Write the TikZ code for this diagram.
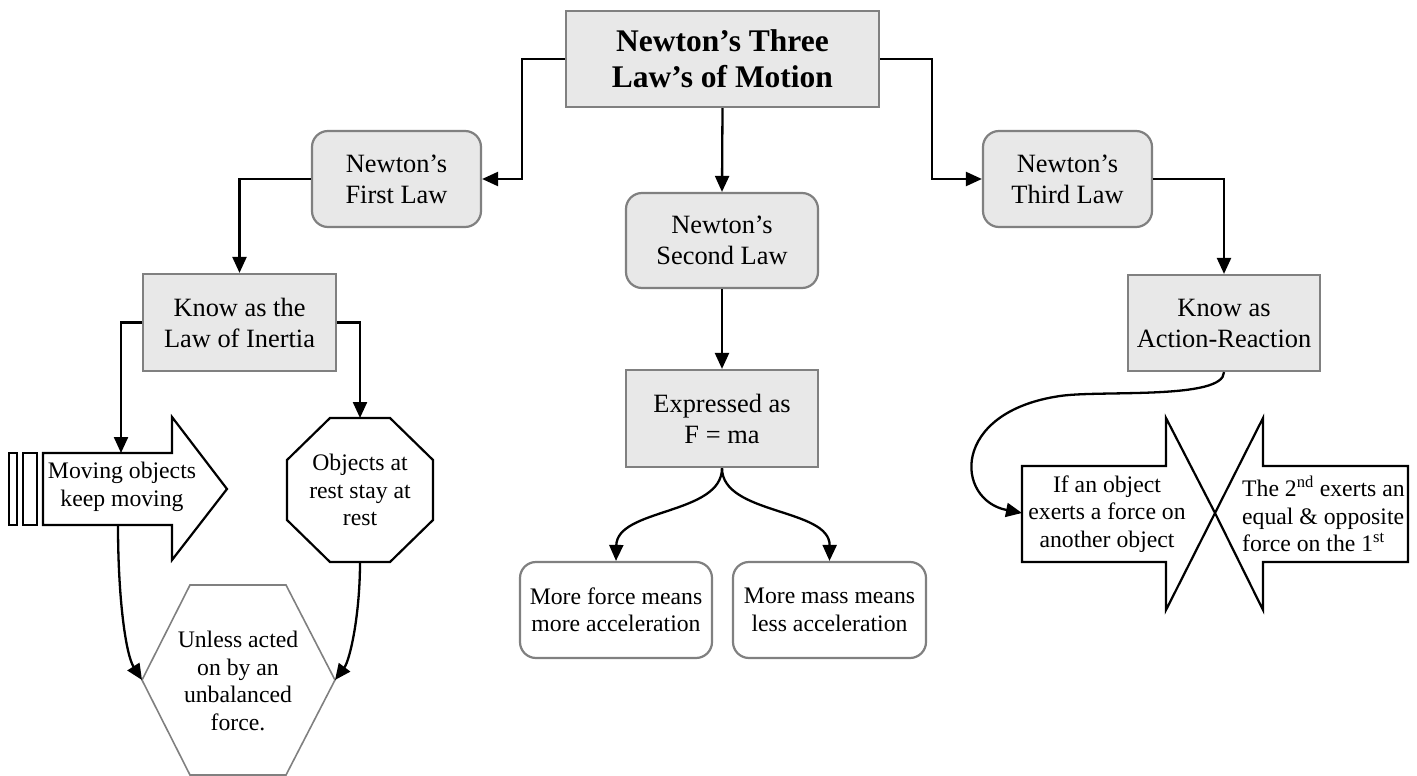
\documentclass[tikz,border=0pt]{standalone}
\usepackage{fontspec}
\setmainfont{Liberation Serif}
\usetikzlibrary{arrows.meta}
\definecolor{boxfill}{HTML}{E8E8E8}
\definecolor{boxline}{HTML}{808080}
\newcommand\bxfont{\fontsize{26.4}{31}\selectfont}
\newcommand\shfont{\fontsize{23.7}{27.5}\selectfont}
\newcommand\ttlfont{\fontsize{31.5}{36}\selectfont\bfseries}
\begin{document}
\begin{tikzpicture}[x=1pt,y=-1pt,
  conn/.style={line width=2.3pt,-{Triangle[length=16pt,width=14pt]}},
  shapeline/.style={line width=2.2pt,draw=black},
  graybox/.style={draw=boxline,fill=boxfill,line width=2.2pt,align=center,font=\bxfont,inner sep=0pt},
  roundbox/.style={graybox,rounded corners=16pt},
  whitebox/.style={draw=boxline,fill=white,line width=2.2pt,rounded corners=16pt,align=center,font=\shfont,inner sep=0pt},
  shtext/.style={align=center,font=\shfont,inner sep=0pt}]
\useasboundingbox (0,0) rectangle (1417,776);

% boxes
\node[graybox,font=\ttlfont,minimum width=313pt,minimum height=96pt] (title) at (722.5,59) {Newton’s Three\\Law’s of Motion};
\node[roundbox,minimum width=169pt,minimum height=96pt] (first) at (396.5,179) {Newton’s\\First Law};
\node[roundbox,minimum width=192pt,minimum height=95pt] (second) at (722,240.5) {Newton’s\\Second Law};
\node[roundbox,minimum width=169pt,minimum height=96pt] (third) at (1067.5,179) {Newton’s\\Third Law};
\node[graybox,minimum width=193pt,minimum height=97pt] (knowI) at (239.5,322.5) {Know as the\\Law of Inertia};
\node[graybox,minimum width=192pt,minimum height=96pt] (knowAR) at (1224,323) {Know as\\Action-Reaction};
\node[graybox,minimum width=192pt,minimum height=97pt] (Fma) at (722,418.5) {Expressed as\\F = ma};
\node[whitebox,minimum width=192pt,minimum height=96pt] (force) at (616,610) {More force means\\more acceleration};
\node[whitebox,minimum width=193pt,minimum height=96pt] (mass) at (829.5,610) {More mass means\\less acceleration};

% moving arrow
\draw[shapeline] (9,453) rectangle (17,525);
\draw[shapeline] (23,453) rectangle (37,525);
\draw[shapeline] (43,453) -- (172,453) -- (172,417) -- (227,489) -- (172,560) -- (172,525) -- (43,525) -- cycle;
\node[shtext] (movtxt) at (122,487) {Moving objects\\keep moving};
\coordinate (movtop) at (121,453);
\coordinate (movbot) at (118,525);

% octagon
\draw[shapeline] (330,418) -- (390,418) -- (433,460) -- (433,520) -- (390,562) -- (330,562) -- (287,520) -- (287,460) -- cycle;
\node[shtext] (octtxt) at (360,490) {Objects at\\rest stay at\\rest};
\coordinate (octtop) at (360,418);
\coordinate (octbot) at (360,562);

% hexagon
\draw[draw=boxline,line width=1.6pt] (190,585) -- (286,585) -- (335,680) -- (286,775) -- (190,775) -- (142,680) -- cycle;
\node[shtext] (hextxt) at (238,681) {Unless acted\\on by an\\unbalanced\\force.};
\coordinate (hexL) at (142,680);
\coordinate (hexR) at (335,680);

% double arrows
\draw[shapeline] (1022,466) -- (1166,466) -- (1166,418) -- (1215,513) -- (1166,610) -- (1166,562) -- (1022,562) -- cycle;
\draw[shapeline] (1408,466) -- (1263,466) -- (1263,418) -- (1215,513) -- (1263,610) -- (1263,562) -- (1408,562) -- cycle;
\node[shtext] (iftxt) at (1107,514) {If an object\\exerts a force on\\another object};
\node[shtext,align=left,anchor=west] (eqtxt) at (1242,514) {The 2\textsuperscript{nd} exerts an\\equal \& opposite\\force on the 1\textsuperscript{st}};
\coordinate (ifin) at (1022,513);

% connectors
\draw[conn] (title.west) -- ++(-43,0) |- (first.east);
\draw[conn] (title.east) -- ++(52,0) |- (third.west);
\draw[conn] (title.south) -- (second.north);
\draw[conn] (first.west) -| (knowI.north);
\draw[conn] (third.east) -| (knowAR.north);
\draw[conn] (second.south) -- (Fma.north);
\draw[conn] (knowI.west) -| (movtop);
\draw[conn] (knowI.east) -| (octtop);
\draw[conn] (Fma.south) .. controls (722,515) and (617,508) .. (force.north);
\draw[conn] (Fma.south) .. controls (722,515) and (830,508) .. (mass.north);
\draw[conn] (movbot) .. controls (118,600) and (126,655) .. (hexL);
\draw[conn] (octbot) .. controls (360,615) and (350,660) .. (hexR);
\draw[conn] (knowAR.south) .. controls (1224,400) and (1100,390) .. (1060,396) .. controls (950,412) and (955,500) .. (ifin);
\end{tikzpicture}
\end{document}
